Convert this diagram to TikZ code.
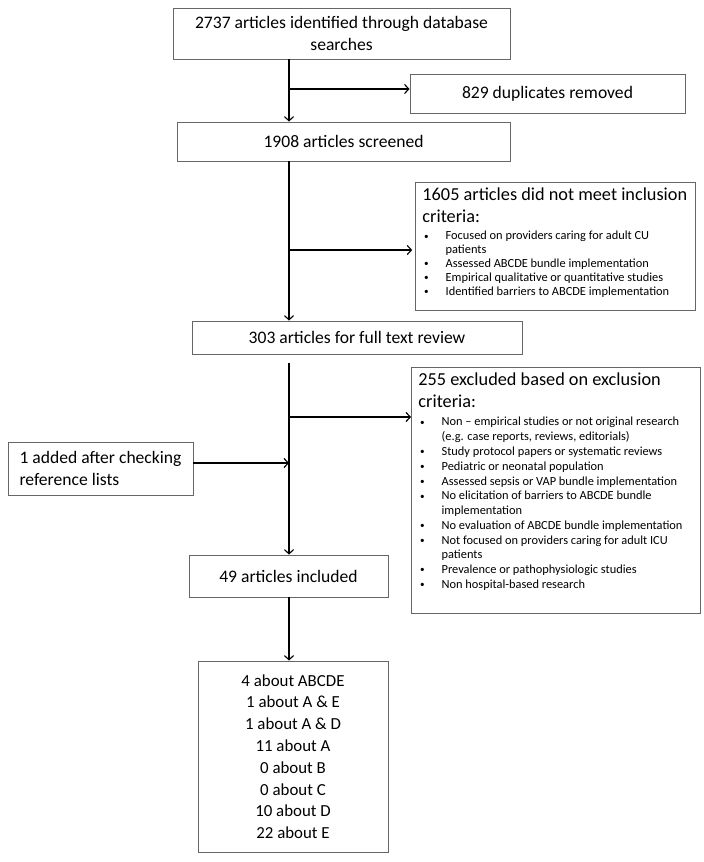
\documentclass[tikz,border=0pt]{standalone}
\usepackage{fontspec}
\setmainfont{Carlito}
\usepackage{tikz}
\usetikzlibrary{arrows.meta}

\newcommand{\critem}[1]{\par\hangindent=16.5pt\hangafter=1\noindent\hbox to 16.5pt{\hskip1.2pt\raisebox{0.5pt}{\fontsize{6.5}{7}\selectfont\textbullet}\hfil}#1}
\newcommand{\crithead}[1]{{\fontsize{13}{15.6}\selectfont #1\par}\vspace{2.5pt}}

\begin{document}
\begin{tikzpicture}[x=0.025cm,y=-0.025cm,>={Straight Barb[length=3pt,width=6.5pt]}]
  \tikzstyle{every node}=[font=\fontsize{12.5}{15.5}\selectfont]
  \tikzstyle{box}=[draw=black!60,line width=0.6pt,rectangle,inner sep=0pt,align=center]
  \tikzstyle{listbox}=[draw=black!60,line width=0.6pt,rectangle,anchor=north west,inner xsep=5pt,inner ysep=4pt]

  \useasboundingbox (0,0) rectangle (704,862);
  \coordinate (trunk) at (289,0);
  \coordinate (j_1)   at (289,89);
  \coordinate (j_2)   at (289,250);
  \coordinate (j_3)   at (289,417);
  \coordinate (j_4)   at (289,463);

  \node[box,minimum width=8.425cm,minimum height=1.275cm] (ident)    at (341.5,33.5)  {2737 articles identified through database\\searches};
  \node[box,minimum width=6.875cm,minimum height=0.975cm] (dupl)     at (547.5,93.5)  {829 duplicates removed};
  \node[box,minimum width=8.325cm,minimum height=0.975cm] (screen)   at (343.5,141.5) {1908 articles screened};
  \node[box,minimum width=8.25cm, minimum height=0.825cm] (fulltext) at (357,337.5)   {303 articles for full text review};
  \node[box,minimum width=4.625cm,minimum height=1.325cm,align=left] (added) at (100.5,468.5) {1 added after checking\\reference lists};
  \node[box,minimum width=4.975cm,minimum height=1.05cm]  (included) at (288.5,576)   {49 articles included};
  \node[box,minimum width=4.75cm, minimum height=4.775cm,font=\fontsize{12}{15.5}\selectfont] (about) at (293,756.5)
    {4 about ABCDE\\1 about A \& E\\1 about A \& D\\11 about A\\0 about B\\0 about C\\10 about D\\22 about E};

  \node[listbox] (notmet) at (415,182) {\parbox[c][2.918cm][t]{6.647cm}{\raggedright
    \crithead{1605 articles did not meet inclusion\\criteria:}
    \fontsize{8.8}{9.8}\selectfont
    \critem{Focused on providers caring for adult CU\newline patients}
    \critem{Assessed ABCDE bundle implementation}
    \critem{Empirical qualitative or quantitative studies}
    \critem{Identified barriers to ABCDE implementation}}};

  \node[listbox] (excl) at (411,367) {\parbox[c][5.868cm][t]{6.872cm}{\raggedright
    \crithead{255 excluded based on exclusion\\criteria:}
    \fontsize{8.8}{10.5}\selectfont
    \critem{Non -- empirical studies or not original research\newline (e.g. case reports, reviews, editorials)}
    \critem{Study protocol papers or systematic reviews}
    \critem{Pediatric or neonatal population}
    \critem{Assessed sepsis or VAP bundle implementation}
    \critem{No elicitation of barriers to ABCDE bundle\newline implementation}
    \critem{No evaluation of ABCDE bundle implementation}
    \critem{Not focused on providers caring for adult ICU\newline patients}
    \critem{Prevalence or pathophysiologic studies}
    \critem{Non hospital-based research}}};

  \path[->,line width=0.8pt]
  (ident.south -| trunk)    edge                   (screen.north -| trunk)
  (j_1)                     edge                   (j_1 -| dupl.west)
  (screen.south -| trunk)   edge                   (fulltext.north -| trunk)
  (j_2)                     edge [shorten >=2pt]   (j_2 -| notmet.west)
  (fulltext.south -| trunk) edge [shorten <=6pt]   (included.north -| trunk)
  (j_3)                     edge                   (j_3 -| excl.west)
  (j_4 -| added.east)       edge                   (j_4)
  (included.south -| trunk) edge                   (about.north -| trunk)
  ;
\end{tikzpicture}
\end{document}
